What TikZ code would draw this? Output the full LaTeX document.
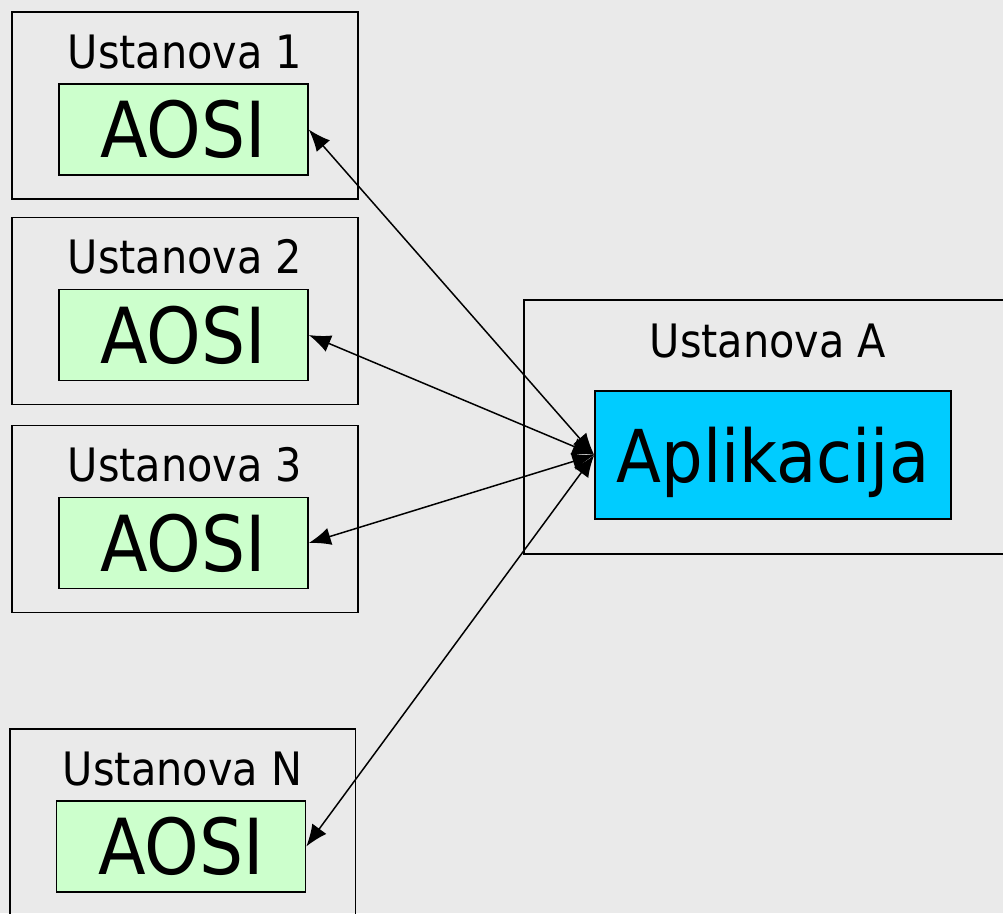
\documentclass[tikz,border=0pt]{standalone}
\usepackage{fontspec}
\setmainfont{DejaVu Sans Condensed}
\usetikzlibrary{arrows.meta}
\definecolor{bggray}{HTML}{EAEAEA}
\definecolor{aosigreen}{HTML}{CCFFCC}
\definecolor{aplblue}{HTML}{00CCFF}

\begin{document}
\begin{tikzpicture}[x=0.02cm,y=-0.02cm,
  ustanova/.style={draw,line width=1.1pt,minimum width=6.92cm,minimum height=3.74cm,inner sep=0pt},
  aosi/.style={draw,line width=0.9pt,fill=aosigreen,minimum width=4.98cm,minimum height=1.82cm,inner sep=0pt,
    font=\fontsize{44}{50}\selectfont},
  naziv/.style={anchor=base,inner sep=0pt,font=\fontsize{26.2}{30}\selectfont},
  veza/.style={<->,>={Latex[length=12.5pt,width=10pt]},line width=0.85pt}]
\fill[bggray] (0,0) rectangle (1003,913);
\useasboundingbox (0,0) rectangle (1003,913);
\clip (0,0) rectangle (1003,913);
\node[ustanova,minimum width=9.64cm,minimum height=5.08cm] (ua) at (765,427) {};
\node[naziv] (la) at (768,357) {Ustanova A};
\node[aosi,fill=aplblue,minimum width=7.12cm,minimum height=2.56cm,text depth=0pt,
  font=\fontsize{41.5}{50}\selectfont] (apl) at (773,455) {Aplikacija};
\foreach \i/\x/\y/\t in {1/185/105.5/1,2/185/311/2,3/185/519/3,n/182.5/822.5/N}{
  \node[ustanova] (u\i) at (\x,\y) {};
  \node[naziv] (l\i) at (\x,\y-37.5) {Ustanova \t};
  \node[aosi] (a\i) at (\x-1.5,\y+24) {AOSI};
}
\foreach \i in {1,2,3,n}
  \draw[veza] (a\i.east) -- (apl.west);
\end{tikzpicture}
\end{document}
